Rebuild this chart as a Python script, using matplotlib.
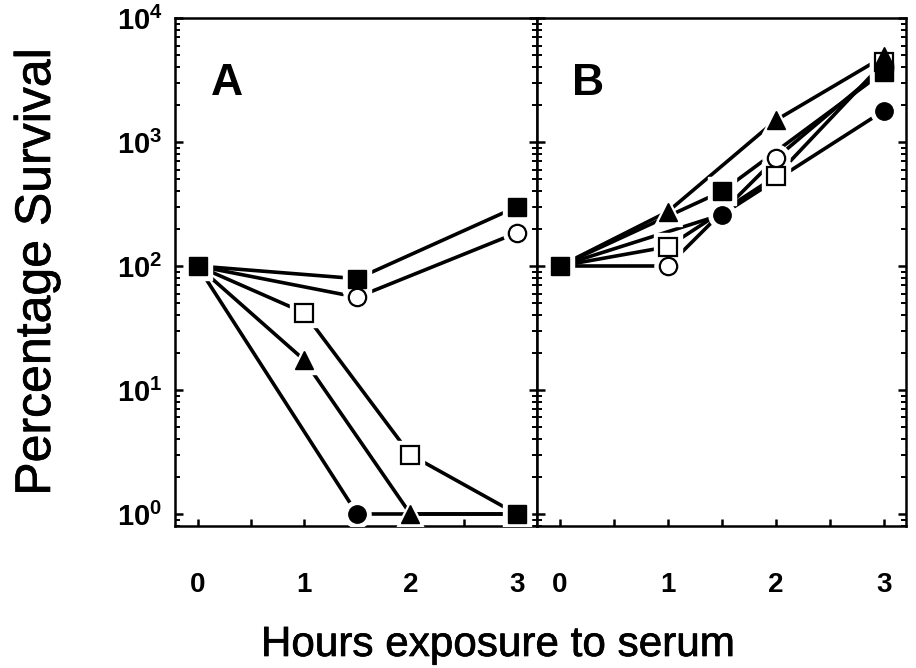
import matplotlib
matplotlib.use("Agg")
import matplotlib.pyplot as plt
import matplotlib.patheffects as pe
from matplotlib.ticker import LogLocator, MultipleLocator, FixedLocator, NullFormatter

plt.rcParams['font.family'] = ['Liberation Sans', 'DejaVu Sans']
plt.rcParams['mathtext.fontset'] = 'custom'
plt.rcParams['mathtext.rm'] = 'Liberation Sans:weight=bold'
plt.rcParams['mathtext.bf'] = 'Liberation Sans:weight=bold'
plt.rcParams['mathtext.it'] = 'Liberation Sans:weight=bold'

# ---------------- data ----------------
hours_ticks = [0, 1, 2, 3]
ytick_vals = [1, 10, 100, 1000, 10000]
ytick_labels = [r'$\mathbf{10^{0}}$', r'$\mathbf{10^{1}}$', r'$\mathbf{10^{2}}$',
                r'$\mathbf{10^{3}}$', r'$\mathbf{10^{4}}$']

# Panel A
a_fsq_x = [0, 1.5, 3]
a_fsq_y = [100, 79, 300]
a_ocirc_x = [0, 1.5, 3]
a_ocirc_y = [100, 56, 185]
a_osq_x = [0, 1, 2, 3]
a_osq_y = [100, 42, 3.0, 1]
a_tri_x = [0, 1, 2, 3]
a_tri_y = [100, 17.5, 1, 1]
a_fcirc_x = [0, 1.5, 3]
a_fcirc_y = [100, 1, 1]
a_end_x = [3]
a_end_y = [1]

# Panel B
b_fsq_x = [0, 1.5, 3]
b_fsq_y = [100, 400, 3700]
b_ocirc_x = [0, 1, 2, 3]
b_ocirc_y = [100, 100, 740, 4000]
b_osq_x = [0, 1, 2, 3]
b_osq_y = [100, 143, 530, 4400]
b_tri_x = [0, 1, 2, 3]
b_tri_y = [100, 275, 1500, 4900]
b_fcirc_x = [0, 1.5, 3]
b_fcirc_y = [100, 260, 1790]

# ---------------- figure ----------------
W, H = 916, 668
fig = plt.figure(figsize=(W / 100, H / 100), dpi=100)

top_px, bot_px = 18, 526
axA = fig.add_axes([175 / W, 1 - bot_px / H, (537 - 175) / W, (bot_px - top_px) / H])
axB = fig.add_axes([537 / W, 1 - bot_px / H, (906 - 537) / W, (bot_px - top_px) / H])

LW = 2.6
MS = 12.5
HALO = MS + 7

styles = {
    'fsq': dict(marker='s', mfc='black', mec='black', ms=MS),
    'ocirc': dict(marker='o', mfc='white', mec='black', ms=MS, mew=1.6),
    'osq': dict(marker='s', mfc='white', mec='black', ms=MS, mew=1.6),
    'tri': dict(marker='^', mfc='black', mec='black', ms=MS + 1),
    'fcirc': dict(marker='o', mfc='black', mec='black', ms=MS),
}


def draw(ax, series):
    for x, y, key, mev in series:
        ax.plot(x, y, color='black', lw=LW, zorder=2, solid_capstyle='butt')
    for x, y, key, mev in series:
        st = styles[key]
        ax.plot(x, y, ls='none', marker=st['marker'], ms=HALO, mfc='white', mec='white',
                markevery=mev, zorder=3)
    for x, y, key, mev in series:
        ax.plot(x, y, ls='none', markevery=mev, zorder=4, **styles[key])


draw(axA, [
    (a_ocirc_x, a_ocirc_y, 'ocirc', [1, 2]),
    (a_osq_x, a_osq_y, 'osq', [1, 2]),
    (a_tri_x, a_tri_y, 'tri', [1, 2]),
    (a_fcirc_x, a_fcirc_y, 'fcirc', [1]),
    (a_fsq_x, a_fsq_y, 'fsq', [0, 1, 2]),
    (a_end_x, a_end_y, 'fsq', [0]),
])

draw(axB, [
    (b_fcirc_x, b_fcirc_y, 'fcirc', [1, 2]),
    (b_ocirc_x, b_ocirc_y, 'ocirc', [1, 2, 3]),
    (b_osq_x, b_osq_y, 'osq', [1, 2, 3]),
    (b_fsq_x, b_fsq_y, 'fsq', [0, 1, 2]),
    (b_tri_x, b_tri_y, 'tri', [1, 2, 3]),
])

for ax, xl in ((axA, (-0.213, 3.19)), (axB, (-0.213, 3.204))):
    ax.set_yscale('log')
    ax.set_ylim(0.80, 10000)
    ax.set_xlim(*xl)
    ax.yaxis.set_major_locator(FixedLocator(ytick_vals))
    ax.yaxis.set_minor_locator(LogLocator(base=10, subs=range(2, 10), numticks=20))
    ax.yaxis.set_minor_formatter(NullFormatter())
    ax.xaxis.set_major_locator(FixedLocator(hours_ticks))
    ax.xaxis.set_minor_locator(MultipleLocator(0.5))
    ax.set_xticklabels([str(h) for h in hours_ticks], fontsize=20, fontweight='bold')
    ax.tick_params(axis='x', which='major', direction='in', length=5, width=1.8,
                   pad=33, top=False)
    ax.tick_params(axis='x', which='minor', direction='in', length=5, width=1.8, top=False)
    ax.tick_params(axis='y', which='major', direction='in', length=6, width=1.8,
                   left=True, right=True)
    ax.tick_params(axis='y', which='minor', direction='in', length=3.5, width=1.4,
                   left=True, right=True)
    for s in ax.spines.values():
        s.set_linewidth(1.8)

axA.set_yticklabels(ytick_labels, fontsize=21)
axA.tick_params(axis='y', which='major', pad=9)
axB.tick_params(axis='y', which='both', labelleft=False)

axA.text(0.144, 0.872, 'A', transform=axA.transAxes, fontsize=32, fontweight='bold',
         ha='center', va='center')
axB.text(0.138, 0.872, 'B', transform=axB.transAxes, fontsize=32, fontweight='bold',
         ha='center', va='center')

thick = [pe.withStroke(linewidth=0.5, foreground='black')]
fig.text(37 / W, 1 - 272 / H, 'Percentage Survival', rotation=90, fontsize=36,
         ha='center', va='center', path_effects=thick)
fig.text(498 / W, 1 - 645 / H, 'Hours exposure to serum', fontsize=30.4,
         ha='center', va='center', path_effects=thick)

fig.savefig('out.png', dpi=100)
